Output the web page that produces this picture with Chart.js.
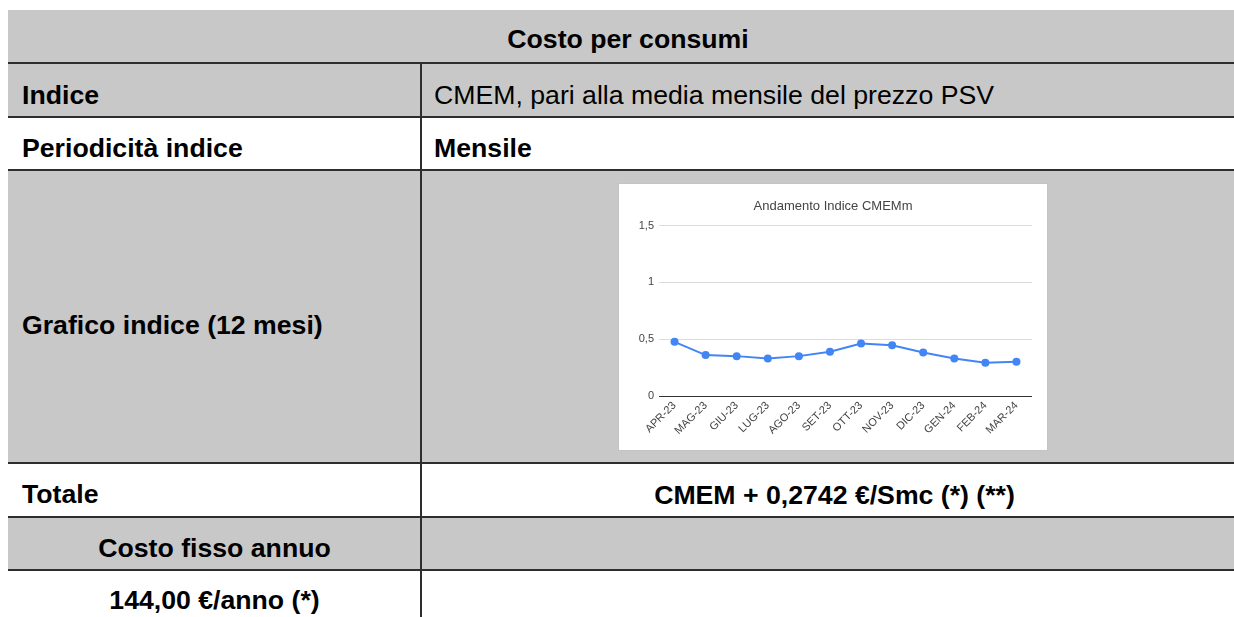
<!DOCTYPE html>
<html>
<head>
<meta charset="utf-8">
<script src="https://cdn.jsdelivr.net/npm/chart.js@4"></script>
<style>
  body { margin: 0; width: 1234px; height: 617px; overflow: hidden; background: #fff;
         font-family: "Liberation Sans", Arial, sans-serif; color: #000; }
  .row { position: absolute; left: 8px; width: 1240px; }
  .gray { background: #c8c8c8; }
  .hline { position: absolute; left: 8px; width: 1240px; height: 2px; background: #2e2e2e; }
  .vline { position: absolute; left: 420px; width: 2px; top: 63px; height: 560px; background: #2e2e2e; }
  .txt { position: absolute; font-size: 26.67px; line-height: 30px; white-space: nowrap; }
  .b { font-weight: bold; }
  #box { position: absolute; left: 618px; top: 183px; width: 430px; height: 268px; box-sizing: border-box;
         border: 1px solid #c4c4c4; background: #fff; }
  #box canvas { display: block; }
</style>
</head>
<body>
<div class="row gray" style="top:10px;height:107px"></div>
<div class="row gray" style="top:170px;height:293px"></div>
<div class="row gray" style="top:516px;height:54px"></div>

<div class="hline" style="top:62px"></div>
<div class="hline" style="top:116px"></div>
<div class="hline" style="top:169px"></div>
<div class="hline" style="top:462px"></div>
<div class="hline" style="top:516px"></div>
<div class="hline" style="top:569px"></div>
<div class="vline"></div>

<div class="txt b" style="left:8px;width:1240px;text-align:center;top:24px">Costo per consumi</div>
<div class="txt b" style="left:22px;top:80px">Indice</div>
<div class="txt" style="left:434px;top:80px">CMEM, pari alla media mensile del prezzo PSV</div>
<div class="txt b" style="left:22px;top:133px">Periodicità indice</div>
<div class="txt b" style="left:434px;top:133px">Mensile</div>
<div class="txt b" style="left:22px;top:310px">Grafico indice (12 mesi)</div>
<div class="txt b" style="left:22px;top:479px">Totale</div>
<div class="txt b" style="left:421px;width:827px;text-align:center;top:480px">CMEM + 0,2742 €/Smc (*) (**)</div>
<div class="txt b" style="left:8px;width:413px;text-align:center;top:533px">Costo fisso annuo</div>
<div class="txt b" style="left:8px;width:413px;text-align:center;top:585px">144,00 €/anno (*)</div>

<div id="box"><canvas id="chart" width="428" height="266"></canvas></div>

<script>
const months = ['APR-23', 'MAG-23', 'GIU-23', 'LUG-23', 'AGO-23', 'SET-23', 'OTT-23', 'NOV-23', 'DIC-23', 'GEN-24', 'FEB-24', 'MAR-24'];
const cmem = [0.477, 0.360, 0.351, 0.330, 0.351, 0.389, 0.462, 0.447, 0.383, 0.330, 0.292, 0.301];
const yTicks = [0, 0.5, 1, 1.5];

Chart.defaults.font.family = '"Liberation Sans", Arial, sans-serif';

const ctx = document.getElementById("chart").getContext("2d");
const chart = new Chart(ctx, {
    type: "line",
    data: {
        labels: months,
        datasets: [{
            label: "CMEMm",
            data: cmem,
            borderColor: "#4285f4",
            backgroundColor: "#4285f4",
            borderWidth: 2,
            pointRadius: 4,
            pointBorderWidth: 0,
            tension: 0
        }]
    },
    options: {
        responsive: false,
        animation: false,
        devicePixelRatio: 1,
        layout: { padding: 0 },
        plugins: {
            legend: { display: false },
            tooltip: { enabled: false },
            title: {
                display: true,
                text: "Andamento Indice CMEMm",
                color: "#444",
                font: { size: 13, weight: "normal" },
                padding: { top: 15, bottom: 11 }
            }
        },
        scales: {
            x: {
                offset: true,
                grid: { display: false, drawTicks: false },
                border: { display: false },
                ticks: { color: "#444", font: { size: 11 }, minRotation: 45, maxRotation: 45, padding: 3, autoSkip: false },
                afterFit: s => { s.height = 54; }
            },
            y: {
                min: yTicks[0],
                max: yTicks[yTicks.length - 1],
                afterBuildTicks: s => { s.ticks = yTicks.map(v => ({ value: v })); },
                grid: {
                    drawTicks: false,
                    color: c => c.tick && c.tick.value === 0 ? "#333" : "#dcdcdc",
                    lineWidth: 1
                },
                border: { display: false },
                ticks: {
                    color: "#444",
                    font: { size: 11 },
                    padding: 5,
                    callback: v => String(v).replace(".", ",")
                },
                afterFit: s => { s.width = 40; }
            },
            // empty right-hand axis, only to keep the margin on the right
            yRight: {
                position: "right",
                display: true,
                grid: { display: false, drawTicks: false },
                border: { display: false },
                ticks: { display: false },
                afterFit: s => { s.width = 15; }
            }
        }
    }
});
</script>
</body>
</html>
